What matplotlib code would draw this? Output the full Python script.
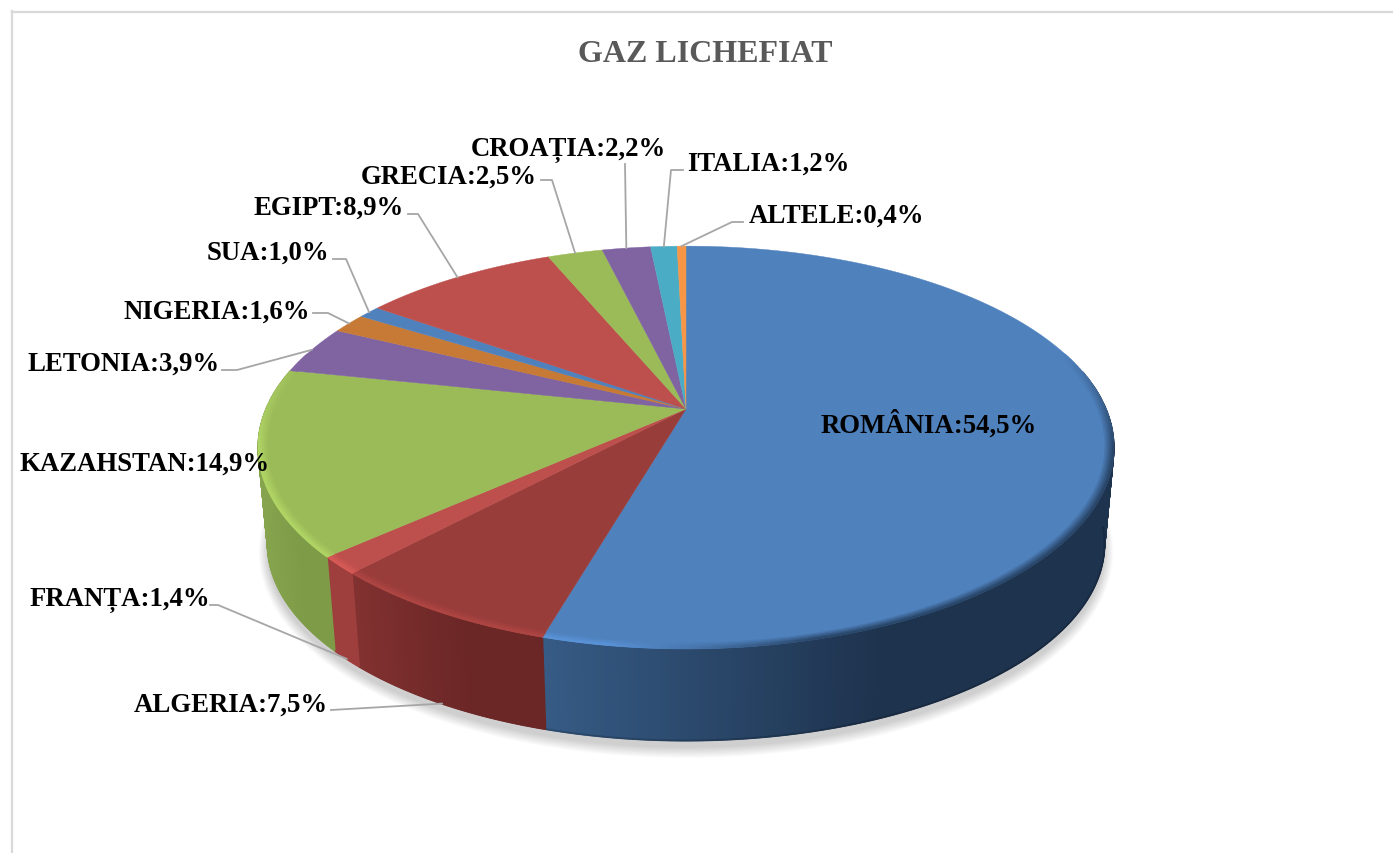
import numpy as np
import matplotlib
matplotlib.use('Agg')
import matplotlib.pyplot as plt
from matplotlib.collections import PolyCollection, LineCollection
from matplotlib.colors import to_rgb

plt.rcParams['font.family'] = ['Liberation Serif', 'DejaVu Serif']

# data
categories = ['ROMÂNIA', 'ALGERIA', 'FRANȚA', 'KAZAHSTAN', 'LETONIA', 'NIGERIA',
              'SUA', 'EGIPT', 'GRECIA', 'CROAȚIA', 'ITALIA', 'ALTELE']
values = [54.5, 7.5, 1.4, 14.9, 3.9, 1.6, 1.0, 8.9, 2.5, 2.2, 1.2, 0.4]
title = 'GAZ LICHEFIAT'

# colours
top_colors = ['#4f81bd', '#993d3b', '#bd4f4c', '#9bbb59', '#8064a2', '#c77a35',
              '#4f81bd', '#bd4f4c', '#9bbb59', '#8064a2', '#4bacc6', '#f79646']
side_left = ['#365b85', '#813130', '#9e3f3d', '#86a34d', '#6a5387', '#9c5f29',
             '#3b608e', '#8f3b39', '#7d9a47', '#6a5387', '#3a8da3', '#c67835']
side_right = ['#1e334e', '#6b2726', '#9e3f3d', '#7e9b48', '#6a5387', '#9c5f29',
              '#3b608e', '#8f3b39', '#7d9a47', '#6a5387', '#3a8da3', '#c67835']
low_edge = [0.82, 1, 1, 1, 1, 1, 1, 1, 1, 1, 1, 1]

# label anchor (left x, centre y) and leader start / elbow, in image pixels
label_pos = [(821, 425), (134, 705), (30, 600), (20, 464), (28, 364), (124, 312),
             (207, 253), (253, 208), (361, 177), (471, 150), (687, 164), (749, 216)]
leaders = {1: [(331, 711)], 2: [(210, 606), (218, 606)], 4: [(222, 371), (237, 371)],
           5: [(313, 314), (328, 314)], 6: [(333, 260), (346, 260)],
           7: [(408, 215), (418, 215)], 8: [(541, 181), (552, 181)], 9: [(625, 165)],
           10: [(683, 171), (671, 171)], 11: [(743, 223), (732, 223)]}

# perspective of the pie in image pixels
CX, CY, AX, BY, K = 686, 410, 420, 194, 0.191
CY_LOW, SCALE_LOW = 507, 0.978


def project(theta, r=1.0, low=False):
    # theta in degrees, clockwise from 12 o'clock
    t = np.radians(theta)
    u, v = r * np.sin(t), r * np.cos(t)
    w = 1 + K * v
    if low:
        return CX + SCALE_LOW * AX * u / w, CY_LOW - SCALE_LOW * BY * v / w
    return CX + AX * u / w, CY - BY * v / w


def mix(a, b, t):
    return tuple(x + (y - x) * t for x, y in zip(a, b))


fig = plt.figure(figsize=(13.93, 8.54), dpi=100)
ax = fig.add_axes([0, 0, 1, 1])
ax.set_xlim(0, 1393)
ax.set_ylim(854, 0)
ax.axis('off')

# chart frame
ax.plot([12, 1393], [12.5, 12.5], color='#d9d9d9', lw=1.6, zorder=1)
ax.plot([12, 12], [12, 854], color='#d9d9d9', lw=1.6, zorder=1)

edges = np.concatenate([[0], np.cumsum(values)]) * 3.6
edges[-1] = 360

# soft shadow under the pie
th = np.linspace(0, 360, 361)
for i in range(16):
    grow = 1 + 0.0014 * i
    sx, sy = project(th, low=True)
    sx = CX + (sx - CX) * grow
    sy = CY_LOW + 7 + (sy - CY_LOW) * (grow + 0.0016 * i)
    ax.fill(sx, sy, color='black', alpha=0.012, lw=0, zorder=2)

# side wall, strips from back to front
side_polys, side_cols, low_lines, low_cols = [], [], [], []
for i in range(len(values)):
    steps = max(2, int((edges[i + 1] - edges[i]) * 2))
    ths = np.linspace(edges[i], edges[i + 1], steps + 1)
    tx, ty = project(ths)
    bx, by = project(ths, low=True)
    cosv = np.cos(np.radians(ths))
    front = cosv < 0.2
    x0, x1 = tx[front].min() if front.any() else 0, tx[front].max() if front.any() else 1
    left, right = to_rgb(side_left[i]), to_rgb(side_right[i])
    for j in range(steps):
        if not front[j]:
            continue
        s = min(1, 1.7 * ((tx[j] + tx[j + 1]) / 2 - x0) / max(x1 - x0, 1))
        col = mix(left, right, s)
        side_polys.append([(tx[j], ty[j]), (tx[j + 1], ty[j + 1]), (bx[j + 1], by[j + 1]), (bx[j], by[j])])
        side_cols.append(col)
        if cosv[j] < -0.1:
            low_lines.append([(bx[j], by[j]), (bx[j + 1], by[j + 1])])
            low_cols.append(tuple(c * low_edge[i] for c in col))
ax.add_collection(PolyCollection(side_polys, facecolors=side_cols, edgecolors=side_cols, linewidths=1.0, zorder=3))
ax.add_collection(LineCollection(low_lines, colors=low_cols, linewidths=1.4, zorder=3))

# top surface
for i in range(len(values)):
    ths = np.linspace(edges[i], edges[i + 1], max(3, int((edges[i + 1] - edges[i]) * 2)))
    px, py = project(ths)
    ax.fill(np.r_[CX, px], np.r_[CY, py], color=top_colors[i], lw=0.3, zorder=4)

# bevel along the front rim
rings = np.linspace(0.98, 1.0, 6)
bev_polys, bev_cols = [], []
for i in range(len(values)):
    steps = max(2, int((edges[i + 1] - edges[i]) * 2))
    ths = np.linspace(edges[i], edges[i + 1], steps + 1)
    base = to_rgb(top_colors[i])
    dark = mix(to_rgb(side_left[i]), to_rgb(side_right[i]), 0.5)
    light = tuple(min(1, c * 1.14) for c in base)
    for j in range(steps):
        mid = np.radians((ths[j] + ths[j + 1]) / 2)
        u, v = np.sin(mid), np.cos(mid)
        fade = np.clip((0.3 - v) / 0.5, 0, 1)
        if fade == 0:
            continue
        target = mix(dark, light, np.clip((0.25 - u) / 0.4, 0, 1))
        for k in range(len(rings) - 1):
            a0, b0 = project(ths[j], rings[k])
            a1, b1 = project(ths[j + 1], rings[k])
            a2, b2 = project(ths[j + 1], rings[k + 1])
            a3, b3 = project(ths[j], rings[k + 1])
            col = mix(base, target, fade * (k + 1) / (len(rings) - 1))
            bev_polys.append([(a0, b0), (a1, b1), (a2, b2), (a3, b3)])
            bev_cols.append(col)
ax.add_collection(PolyCollection(bev_polys, facecolors=bev_cols, edgecolors=bev_cols, linewidths=0.6, zorder=5))

# leader lines end on the rim at the middle of each slice
mids = (edges[:-1] + edges[1:]) / 2
for i, pts in leaders.items():
    end = project(mids[i], low=np.cos(np.radians(mids[i])) < 0)
    xs = [p[0] for p in pts] + [end[0]]
    ys = [p[1] for p in pts] + [end[1]]
    ax.plot(xs, ys, color='#a6a6a6', lw=1.3, zorder=6)

# labels
for cat, val, (lx, ly) in zip(categories, values, label_pos):
    txt = f'{cat}:{val:.1f}%'.replace('.', ',')
    ax.text(lx, ly, txt, fontsize=19.3, fontweight='bold', color='black', ha='left', va='center', zorder=7)

ax.text(705, 55, title, fontsize=23, fontweight='bold', color='#595959', ha='center', va='center', zorder=7)

fig.savefig('out.png', dpi=100)
